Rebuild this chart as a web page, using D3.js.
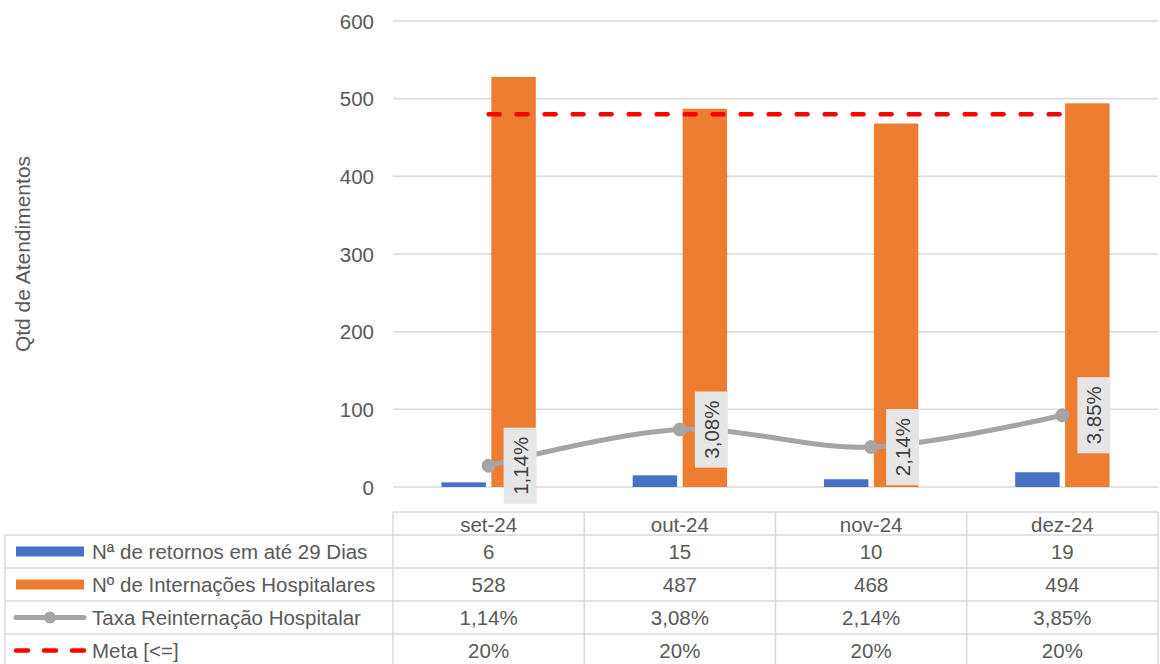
<!DOCTYPE html>
<html lang="pt">
<head>
<meta charset="utf-8">
<title>Taxa de Reinternação</title>
<script src="https://d3js.org/d3.v7.min.js"></script>
<style>
  body{margin:0;background:#fff;font-family:"Liberation Sans",Arial,sans-serif;}
  svg text{fill:#595959;}
</style>
</head>
<body>
<div id="chart"></div>
<script>
// data
var categories = ["set-24","out-24","nov-24","dez-24"]
var retornos = [6,15,10,19]
var internacoes = [528,487,468,494]
var taxa = [1.14,3.08,2.14,3.85]
var meta = [20,20,20,20]
var yTicks = [0,100,200,300,400,500,600]
var seriesNames = ["Nª de retornos em até 29 Dias","Nº de Internações Hospitalares","Taxa Reinternação Hospitalar","Meta [<=]"]

var W = 1160, H = 664
var plotL = 393, plotR = 1158, plotT = 21, plotB = 487
var fs = "20.5px"

var pt = d3.formatLocale({decimal:",",thousands:".",grouping:[3],currency:["R$",""]})
var fmtPct = function(v){ return pt.format(".2f")(v) + "%" }

var svg = d3.select("#chart").append("svg").attr("width",W).attr("height",H)

var x = d3.scaleBand().domain(categories).range([plotL,plotR])
var xs = d3.scaleBand().domain(["ret","int"]).range([0,x.bandwidth()]).paddingInner(0.11).paddingOuter(0.97)
var y = d3.scaleLinear().domain([0,600]).range([plotB,plotT])
var y2 = d3.scaleLinear().domain([0,25]).range([plotB,plotT])
var cx = function(i){ return x(categories[i]) + x.bandwidth()/2 }

// gridlines
svg.append("g").selectAll("line").data(yTicks).enter().append("line")
  .attr("x1",plotL).attr("x2",plotR)
  .attr("y1",function(d){return y(d)}).attr("y2",function(d){return y(d)})
  .attr("stroke","#d9d9d9").attr("stroke-width",1.5)

// tick labels
svg.append("g").selectAll("text").data(yTicks).enter().append("text")
  .attr("x",374).attr("y",function(d){return y(d)})
  .attr("text-anchor","end").attr("dominant-baseline","central")
  .style("font-size",fs).text(function(d){return d})

// y title
svg.append("text")
  .attr("transform","translate(22,"+((plotT+plotB)/2)+") rotate(-90)")
  .attr("text-anchor","middle").attr("dominant-baseline","central")
  .style("font-size","21px").text("Qtd de Atendimentos")

// bars
svg.append("g").selectAll("rect").data(retornos).enter().append("rect")
  .attr("x",function(d,i){return x(categories[i]) + xs("ret")})
  .attr("width",xs.bandwidth())
  .attr("y",function(d){return y(d)})
  .attr("height",function(d){return plotB - y(d)})
  .attr("fill","#4472c4")
svg.append("g").selectAll("rect").data(internacoes).enter().append("rect")
  .attr("x",function(d,i){return x(categories[i]) + xs("int")})
  .attr("width",xs.bandwidth())
  .attr("y",function(d){return y(d)})
  .attr("height",function(d){return plotB - y(d)})
  .attr("fill","#ed7d31")

// meta line
var metaLine = d3.line().x(function(d,i){return cx(i)}).y(function(d){return y2(d)})
svg.append("path").datum(meta).attr("d",metaLine)
  .attr("fill","none").attr("stroke","#ff0000").attr("stroke-width",4.5)
  .attr("stroke-linecap","round").attr("stroke-dasharray","11,17")

// taxa line (smoothed)
var taxaLine = d3.line().x(function(d,i){return cx(i)}).y(function(d){return y2(d)}).curve(d3.curveCatmullRom.alpha(0.5))
svg.append("path").datum(taxa).attr("d",taxaLine)
  .attr("fill","none").attr("stroke","#a5a5a5").attr("stroke-width",5).attr("stroke-linecap","round")
svg.append("g").selectAll("circle").data(taxa).enter().append("circle")
  .attr("cx",function(d,i){return cx(i)}).attr("cy",function(d){return y2(d)})
  .attr("r",7).attr("fill","#a5a5a5")

// data labels (rotated, gray box)
var lab = svg.append("g").selectAll("g").data(taxa).enter().append("g")
  .attr("transform",function(d,i){return "translate("+(cx(i)+15+16.5)+","+y2(d)+") rotate(-90)"})
lab.append("rect").attr("fill","#e7e6e6")
lab.append("text").attr("text-anchor","middle").attr("dominant-baseline","central")
  .style("font-size",fs).style("fill","#404040").text(function(d){return fmtPct(d)})
lab.each(function(){
  var g = d3.select(this)
  var w = g.select("text").node().getComputedTextLength()
  g.select("rect").attr("x",-w/2-9).attr("y",-16.5).attr("width",w+18).attr("height",33)
})

// data table
var rowsY = [535,568,601,634,667]
var tbl = svg.append("g").attr("stroke","#d9d9d9").attr("stroke-width",1.5)
tbl.append("line").attr("x1",plotL).attr("x2",plotR).attr("y1",512).attr("y2",512)
rowsY.forEach(function(ry){
  tbl.append("line").attr("x1",5).attr("x2",plotR).attr("y1",ry).attr("y2",ry)
})
tbl.append("line").attr("x1",5).attr("x2",5).attr("y1",535).attr("y2",H)
categories.forEach(function(c){
  tbl.append("line").attr("x1",x(c)).attr("x2",x(c)).attr("y1",512).attr("y2",H)
})
tbl.append("line").attr("x1",plotR).attr("x2",plotR).attr("y1",512).attr("y2",H)

// header
svg.append("g").selectAll("text").data(categories).enter().append("text")
  .attr("x",function(d){return x(d)+x.bandwidth()/2}).attr("y",524)
  .attr("text-anchor","middle").attr("dominant-baseline","central")
  .style("font-size",fs).text(function(d){return d})

var rowValues = [
  retornos.map(function(d){return String(d)}),
  internacoes.map(function(d){return String(d)}),
  taxa.map(fmtPct),
  meta.map(function(d){return d+"%"})
]
rowValues.forEach(function(vals,r){
  var ry = (rowsY[r]+rowsY[r+1])/2
  svg.append("g").selectAll("text").data(vals).enter().append("text")
    .attr("x",function(d,i){return cx(i)}).attr("y",ry)
    .attr("text-anchor","middle").attr("dominant-baseline","central")
    .style("font-size",fs).text(function(d){return d})
  svg.append("text").attr("x",92).attr("y",ry)
    .attr("dominant-baseline","central").style("font-size",fs).text(seriesNames[r])
})

// legend keys
var ky = rowsY.slice(0,4).map(function(ry,i){return (ry+rowsY[i+1])/2})
svg.append("rect").attr("x",16).attr("y",ky[0]-5).attr("width",68).attr("height",10).attr("fill","#4472c4")
svg.append("rect").attr("x",16).attr("y",ky[1]-5).attr("width",68).attr("height",10).attr("fill","#ed7d31")
svg.append("line").attr("x1",16).attr("x2",84).attr("y1",ky[2]).attr("y2",ky[2])
  .attr("stroke","#a5a5a5").attr("stroke-width",5).attr("stroke-linecap","round")
svg.append("circle").attr("cx",50).attr("cy",ky[2]).attr("r",6).attr("fill","#a5a5a5")
svg.append("line").attr("x1",16).attr("x2",84).attr("y1",ky[3]).attr("y2",ky[3])
  .attr("stroke","#ff0000").attr("stroke-width",4.5).attr("stroke-linecap","round")
  .attr("stroke-dasharray","12,16")
</script>
</body>
</html>
